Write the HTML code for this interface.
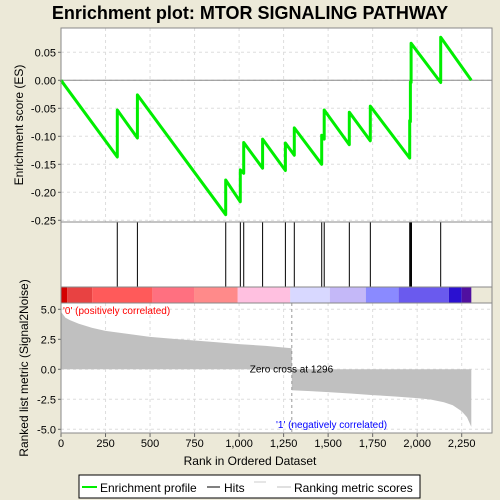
<!DOCTYPE html>
<html><head><meta charset="utf-8"><style>
body{margin:0;background:#ece9d8;}
svg{display:block;font-family:"Liberation Sans",sans-serif;}
</style></head><body>
<svg id="c" width="500" height="500" viewBox="0 0 500 500">
<rect x="0" y="0" width="500" height="500" fill="#ece9d8"/>
<text x="250" y="19" text-anchor="middle" font-size="18" font-weight="bold" fill="#000">Enrichment plot: MTOR SIGNALING PATHWAY</text>
<g id="g"></g>
</svg>
<script>
// Data
const esTicks=[0.05,0.00,-0.05,-0.10,-0.15,-0.20,-0.25];
const esTickLabels=["0.05","0.00","-0.05","-0.10","-0.15","-0.20","-0.25"];
const rankTicks=[0,250,500,750,1000,1250,1500,1750,2000,2250];
const rankTickLabels=["0","250","500","750","1,000","1,250","1,500","1,750","2,000","2,250"];
const metricTicks=[5,2.5,0,-2.5,-5];
const metricTickLabels=["5.0","2.5","0.0","-2.5","-5.0"];
const hitRanks=[316,429,925,1007,1026,1132,1260,1310,1464,1478,1619,1737,1958,1962,1966,1968,2132];
const esRanks=[0,316,316,429,429,925,925,1007,1007,1026,1026,1132,1132,1260,1260,1310,1310,1464,1464,1478,1478,1619,1619,1737,1737,1958,1958,1962,1962,1966,1966,2132,2132,2304];
const esValues=[0,-0.137,-0.053,-0.103,-0.026,-0.240,-0.178,-0.217,-0.160,-0.166,-0.111,-0.157,-0.105,-0.161,-0.112,-0.134,-0.085,-0.150,-0.098,-0.105,-0.053,-0.115,-0.057,-0.108,-0.046,-0.139,-0.072,-0.074,-0.003,-0.004,0.066,-0.004,0.077,0];
const metricRanks=[0,10,25,50,100,175,250,375,500,625,750,875,1000,1150,1296,1296,1400,1500,1625,1750,1875,2000,2075,2150,2200,2250,2280,2304];
const metricValues=[4.8,4.6,4.3,4.1,3.8,3.45,3.2,2.95,2.7,2.55,2.4,2.25,2.1,1.95,1.75,-1.75,-1.82,-1.9,-2.02,-2.15,-2.27,-2.4,-2.52,-2.75,-3.0,-3.5,-4.0,-4.8];
const barStarts=[0,35,175,513,747,992,1287,1510,1712,1896,2178,2250];
const barEnds=[35,175,513,747,992,1287,1510,1712,1896,2178,2250,2304];
const barColors=["#d40000","#e84242","#ff5a5a","#ff7080","#ff8a8a","#ffc0e0","#d8d8ff","#c4b8f8","#8a8aff","#6a5aee","#2a10d0","#5010a0"];
const zeroCross=1296;

const NS="http://www.w3.org/2000/svg";
const g=document.getElementById('g');
const X0=61,X1=492;
const xs=r=>X0+r*(400.7/2250);
const yES=v=>80.3-v*560;
const yM=v=>369.3-v*12;
function el(t,a,p){const e=document.createElementNS(NS,t);for(const k in a)e.setAttribute(k,a[k]);(p||g).appendChild(e);return e;}

// panels backgrounds
let r;
r=el('rect',{x:X0,y:28,width:X1-X0,height:194,fill:'#fff'});


r=el('rect',{x:X0,y:222,width:X1-X0,height:65,fill:'#fff'});


r=el('rect',{x:X0,y:303,width:X1-X0,height:130,fill:'#fff'});



// grid
rankTicks.forEach(t=>{if(t===0)return;const x=xs(t);
 el('line',{x1:x,x2:x,y1:28,y2:222,stroke:'#ddd','stroke-dasharray':'3,3'});
 el('line',{x1:x,x2:x,y1:303,y2:433,stroke:'#ddd','stroke-dasharray':'3,3'});});
esTicks.forEach(t=>{const y=yES(t);el('line',{x1:X0,x2:X1,y1:y,y2:y,stroke:'#ddd','stroke-dasharray':'3,3'});});
metricTicks.forEach(t=>{const y=yM(t);el('line',{x1:X0,x2:X1,y1:y,y2:y,stroke:'#ddd','stroke-dasharray':'3,3'});});
el('line',{x1:X0,x2:X1,y1:yES(0),y2:yES(0),stroke:'#888'});

// ES ticks/labels
esTicks.forEach((t,i)=>{const y=yES(t);
 el('line',{x1:X0-3,x2:X0,y1:y,y2:y,stroke:'#666'});
 const tx=el('text',{x:X0-5,y:y+4,'text-anchor':'end','font-size':'11',fill:'#000'});tx.textContent=esTickLabels[i];
 
 });

// ES curve
let pts=esRanks.map((rk,i)=>xs(rk).toFixed(1)+','+yES(esValues[i]).toFixed(1)).join(' ');
const pl=el('polyline',{points:pts,fill:'none',stroke:'#00ee00','stroke-width':'3','stroke-linejoin':'round'});



// hits
hitRanks.forEach(h=>{const x=xs(h);const l=el('line',{x1:x,x2:x,y1:222,y2:287,stroke:'#000','stroke-width':'1'});
 
 });

// color bar
barStarts.forEach((s,i)=>{const b=el('rect',{x:xs(s),y:287,width:xs(barEnds[i])-xs(s),height:16,fill:barColors[i]});
 
 });

// metric area
let mp='M'+xs(0)+','+yM(0)+' '+metricRanks.map((rk,i)=>'L'+xs(rk).toFixed(1)+','+yM(metricValues[i]).toFixed(1)).join(' ')+' L'+xs(metricRanks[metricRanks.length-1])+','+yM(0)+'Z';
const ma=el('path',{d:mp,fill:'#c0c0c0'});


const zx=xs(zeroCross);
el('line',{x1:zx,x2:zx,y1:303,y2:433,stroke:'#999','stroke-dasharray':'3,3'});
let t=el('text',{x:xs(1060),y:yM(0)+3,'font-size':'10',fill:'#000'});t.textContent='Zero cross at '+zeroCross;


t=el('text',{x:63,y:314,'font-size':'10',fill:'#f00'});t.textContent="'0' (positively correlated)";


t=el('text',{x:276,y:428,'font-size':'10',fill:'#00f'});t.textContent="'1' (negatively correlated)";



metricTicks.forEach((v,i)=>{const y=yM(v);
 el('line',{x1:X0-3,x2:X0,y1:y,y2:y,stroke:'#666'});
 const tx=el('text',{x:X0-5,y:y+4,'text-anchor':'end','font-size':'11',fill:'#000'});tx.textContent=metricTickLabels[i];
 
 });
rankTicks.forEach((v,i)=>{const x=xs(v);
 el('line',{x1:x,x2:x,y1:433,y2:437,stroke:'#666'});
 const tx=el('text',{x:x,y:447,'text-anchor':'middle','font-size':'11',fill:'#000'});tx.textContent=rankTickLabels[i];
 
 });

// borders
[[28,222],[222,287],[287,303],[303,433]].forEach(([a,b])=>el('rect',{x:X0,y:a,width:X1-X0,height:b-a,fill:'none',stroke:'#888'}));

// axis titles
t=el('text',{x:250,y:465,'text-anchor':'middle','font-size':'12',fill:'#000'});t.textContent='Rank in Ordered Dataset';


t=el('text',{x:0,y:0,'text-anchor':'middle','font-size':'12',fill:'#000',transform:'translate(23,125) rotate(-90)'});t.textContent='Enrichment score (ES)';


t=el('text',{x:0,y:0,'text-anchor':'middle','font-size':'12',fill:'#000',transform:'translate(28,368) rotate(-90)'});t.textContent='Ranked list metric (Signal2Noise)';



// legend
const lg=el('g',{});


el('rect',{x:79,y:475,width:341,height:23,fill:'#fff',stroke:'#000'},lg);
el('line',{x1:82,x2:97,y1:487,y2:487,stroke:'#00ee00','stroke-width':'2'},lg);
t=el('text',{x:100,y:492,'font-size':'12',fill:'#000'},lg);t.textContent='Enrichment profile';


el('line',{x1:207,x2:220,y1:487,y2:487,stroke:'#000','stroke-width':'1'},lg);
t=el('text',{x:224,y:492,'font-size':'12',fill:'#000'},lg);t.textContent='Hits';


el('line',{x1:254,x2:266,y1:482,y2:482,stroke:'#ccc'},lg);
el('line',{x1:277,x2:291,y1:487,y2:487,stroke:'#c0c0c0','stroke-width':'1'},lg);
t=el('text',{x:294,y:492,'font-size':'12',fill:'#000'},lg);t.textContent='Ranking metric scores';


</script>
</body></html>
